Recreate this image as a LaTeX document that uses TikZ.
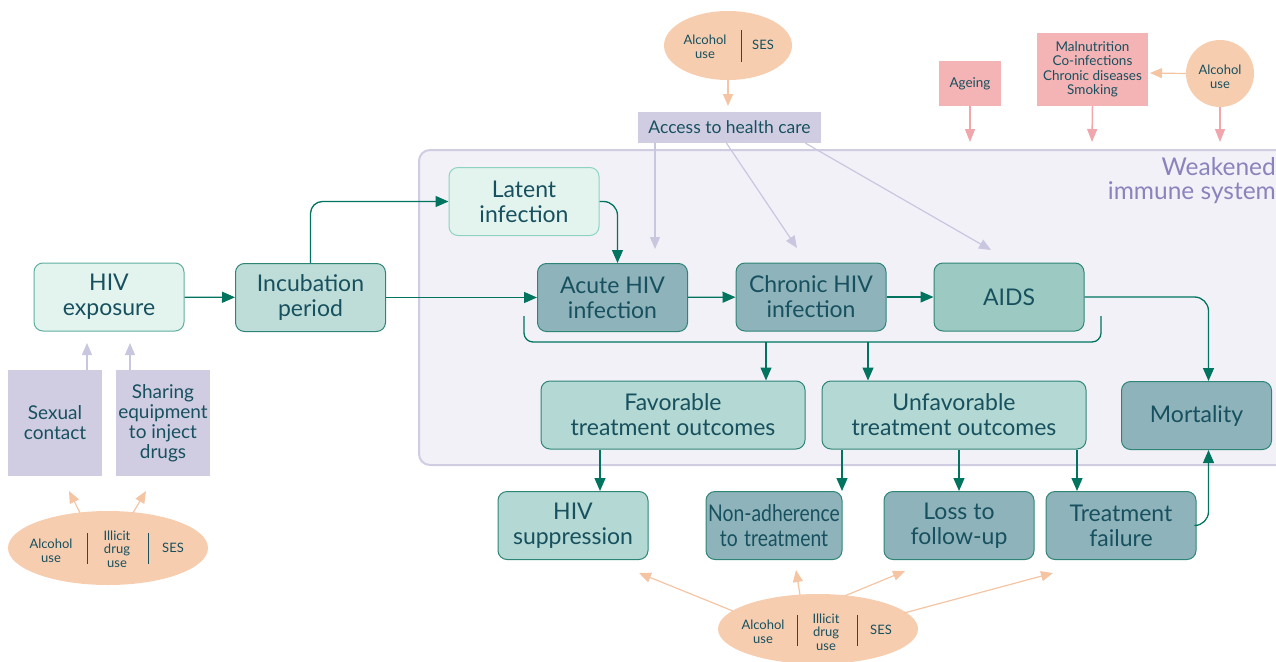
\documentclass[tikz,border=0pt]{standalone}
\usepackage{fontspec}
\usepackage{graphicx}
\setmainfont{Lato}
\usetikzlibrary{arrows.meta,shapes.geometric,calc}
\definecolor{txt}{HTML}{17505E}
\definecolor{grn}{HTML}{00745E}
\definecolor{bdlight}{HTML}{5FAE9F}
\definecolor{bdlatent}{HTML}{8ED3C0}
\definecolor{bdmid}{HTML}{2E8577}
\definecolor{flight}{HTML}{E3F4EF}
\definecolor{finc}{HTML}{BEDDD8}
\definecolor{fdark}{HTML}{8FB3BA}
\definecolor{faids}{HTML}{9CC9C1}
\definecolor{fmid}{HTML}{B4D8D3}
\definecolor{purp}{HTML}{D0CDE3}
\definecolor{purpA}{HTML}{C9C6E0}
\definecolor{regfill}{HTML}{F2F1F7}
\definecolor{wkn}{HTML}{8A83BC}
\definecolor{orng}{HTML}{F7CDB0}
\definecolor{orngA}{HTML}{F5C4A3}
\definecolor{pink}{HTML}{F4B3B5}
\definecolor{pinkA}{HTML}{EFA6AC}
\tikzset{
  box/.style={draw, rounded corners=9pt, line width=1pt, minimum width=150pt, minimum height=68pt, align=center, inner sep=1pt, font=\fontsize{23}{25}\selectfont, text=txt},
  lbox/.style={box, fill=flight, draw=bdlight},
  mbox/.style={box, fill=fmid, draw=bdmid},
  dbox/.style={box, fill=fdark, draw=bdmid},
  pbox/.style={fill=purp, minimum width=94pt, minimum height=106pt, align=center, font=\fontsize{19}{20}\selectfont, text=txt, inner sep=1pt},
  kbox/.style={fill=pink, align=center, font=\fontsize{13.5}{14.5}\selectfont, text=txt, inner sep=1pt},
  oell/.style={ellipse, fill=orng, inner sep=0pt},
  small/.style={align=center, font=\fontsize{13}{13.5}\selectfont, text=txt, inner sep=0pt},
  divider/.style={draw=txt, line width=1pt},
  gline/.style={draw=grn, line width=1.3pt},
  garrow/.style={gline, -{Triangle[length=13pt,width=11pt]}},
  parrow/.style={draw=purpA, line width=1.2pt, -{Triangle[length=12pt,width=10pt]}},
  oarrow/.style={draw=orngA, line width=1.2pt, -{Triangle[length=12pt,width=10pt]}},
  karrow/.style={draw=pinkA, line width=1.5pt, -{Triangle[length=13pt,width=10pt]}},
}
\begin{document}
\begin{tikzpicture}[x=1pt,y=-1pt]
\useasboundingbox (0,0) rectangle (1276,661);
% region
\path[fill=regfill, draw=purp, line width=2pt, rounded corners=11pt] (419,150) rectangle (1300,465);
\node[anchor=north east, align=right, text=wkn, font=\fontsize{24.5}{24}\selectfont, inner sep=0pt] (wk) at (1276,157) {Weakened\\immune system};

% main boxes
\node[lbox] (hiv) at (109,297) {HIV\\exposure};
\node[box, fill=finc, draw=bdmid] (inc) at (310.5,297.5) {Incubation\\period};
\node[box, fill=flight, draw=bdlatent] (lat) at (524,201.5) {Latent\\infection};
\node[dbox] (acu) at (612.5,297.5) {Acute HIV\\infection};
\node[dbox] (chr) at (811,297) {Chronic HIV\\infection};
\node[box, fill=faids, draw=bdmid] (aids) at (1009,297) {AIDS};
\node[mbox, minimum width=264pt] (fav) at (673,415) {Favorable\\treatment outcomes};
\node[mbox, minimum width=264pt] (unf) at (954,415) {Unfavorable\\treatment outcomes};
\node[dbox] (mort) at (1196.5,415.5) {Mortality};
\node[mbox] (sup) at (573,525.5) {HIV\\suppression};
\node[dbox, minimum width=136pt, text width=132pt] (non) at (774,525.5) {\scalebox{0.84}[1]{Non-adherence}\\\scalebox{0.84}[1]{to treatment}};
\node[dbox] (loss) at (959,525.5) {Loss to\\follow-up};
\node[dbox] (tf) at (1121,525.5) {Treatment\\failure};

% purple boxes
\node[pbox] (sex) at (55,423) {Sexual\\contact};
\node[pbox] (shr) at (163,423) {Sharing\\equipment\\to inject\\drugs};
\node[fill=purp, minimum width=183pt, minimum height=31pt, font=\fontsize{17.5}{18}\selectfont, text=txt, inner sep=1pt] (acc) at (729.5,127.5) {Access to health care};

% pink boxes
\node[kbox, minimum width=62pt, minimum height=45pt] (age) at (970,83.5) {Ageing};
\node[kbox, minimum width=111pt, minimum height=73pt] (mal) at (1092.5,69.5) {Malnutrition\\Co-infections\\Chronic diseases\\Smoking};

% ellipses
\node[oell, minimum width=128pt, minimum height=69pt] (e1) at (728,45.5) {};
\node[small] (e1a) at (705,47) {Alcohol\\use};
\node[small] (e1b) at (763,45) {SES};
\draw[divider] (741,30) -- (741,62);

\node[oell, minimum width=68pt, minimum height=67pt] (e2) at (1220,73.5) {};
\node[small] (e2a) at (1220,77) {Alcohol\\use};

\node[oell, minimum width=200pt, minimum height=74pt] (e3) at (108,548) {};
\node[small] (e3a) at (51,551) {Alcohol\\use};
\node[small] (e3b) at (117,549) {Illicit\\drug\\use};
\node[small] (e3c) at (173,548) {SES};
\draw[divider] (87,533) -- (87,564);
\draw[divider] (148,533) -- (148,564);

\node[oell, minimum width=200pt, minimum height=70pt] (e4) at (818,629) {};
\node[small] (e4a) at (763,632) {Alcohol\\use};
\node[small] (e4b) at (826,632) {Illicit\\drug\\use};
\node[small] (e4c) at (881,630) {SES};
\draw[divider] (797,615) -- (797,646);
\draw[divider] (857,615) -- (857,646);

% green connectors
\draw[garrow] (hiv) -- (inc);
\draw[garrow, rounded corners=12pt] (inc.north) |- (lat.west);
\draw[garrow] (inc.east) -- (acu.west);
\coordinate (acuIn) at ($(acu.north)+(5,0)$);
\draw[garrow, rounded corners=14pt] (lat.east) -| (acuIn);
\draw[garrow] (acu) -- (chr);
\draw[garrow] (chr) -- (aids);
\coordinate (mortIn) at ($(mort.north)+(12,0)$);
\coordinate (mortOut) at ($(mort.south)+(12,0)$);
\draw[garrow, rounded corners=14pt] (aids.east) -| (mortIn);
\draw[garrow, rounded corners=14pt] (tf.east) -| (mortOut);
% bracket
\coordinate (brL) at (524,316);
\coordinate (brR) at (1101,316);
\coordinate (brB1) at (766,342);
\coordinate (brB2) at (868,342);
\draw[gline, rounded corners=9pt] (brL) |- (brB1) -- (brB2) -| (brR);
\draw[garrow] (brB1) -- (brB1 |- fav.north);
\draw[garrow] (brB2) -- (brB2 |- unf.north);
\coordinate (f1) at (600,449);
\draw[garrow] (f1 |- fav.south) -- (f1 |- sup.north);
\coordinate (u1) at (842,449);
\coordinate (u2) at (959,449);
\coordinate (u3) at (1077,449);
\draw[garrow] (u1 |- unf.south) -- (u1 |- non.north);
\draw[garrow] (u2 |- unf.south) -- (u2 |- loss.north);
\draw[garrow] (u3 |- unf.south) -- (u3 |- tf.north);

% access arrows
\coordinate (a1) at (655,249);
\coordinate (a2) at (797,248);
\coordinate (a3) at (991,250);
\draw[parrow] (acc.south -| a1) -- (a1);
\draw[parrow] ($(acc.south)+(-3,0)$) -- (a2);
\draw[parrow] ($(acc.south)+(76,0)$) -- (a3);
\coordinate (p1) at (87,343);
\coordinate (p2) at (130,343);
\draw[parrow] (sex.north -| p1) -- (p1);
\draw[parrow] (shr.north -| p2) -- (p2);

% orange arrows
\coordinate (accIn) at (728,106);
\draw[oarrow] (e1.south) -- (accIn);
\coordinate (malIn) at (1150,73);
\draw[oarrow] (e2.west) -- (malIn);
\coordinate (o1) at (69,491);
\coordinate (o2) at (146,491);
\draw[oarrow] ($(e3.north)+(-28,2)$) -- (o1);
\draw[oarrow] ($(e3.north)+(25,2)$) -- (o2);
\coordinate (q1) at (639,573);
\coordinate (q2) at (796,570);
\coordinate (q3) at (905,571);
\coordinate (q4) at (1053,573);
\draw[oarrow] ($(e4.center)+(-85,-18)$) -- (q1);
\draw[oarrow] ($(e4.north)+(-18,1)$) -- (q2);
\draw[oarrow] ($(e4.north)+(27,2)$) -- (q3);
\draw[oarrow] ($(e4.center)+(86,-16)$) -- (q4);

% pink arrows
\coordinate (k1) at (970,142);
\coordinate (k2) at (1092,142);
\coordinate (k3) at (1220,142);
\draw[karrow] (age.south) -- (k1);
\draw[karrow] (mal.south) -- (k2);
\draw[karrow] (e2.south) -- (k3);
\end{tikzpicture}
\end{document}
